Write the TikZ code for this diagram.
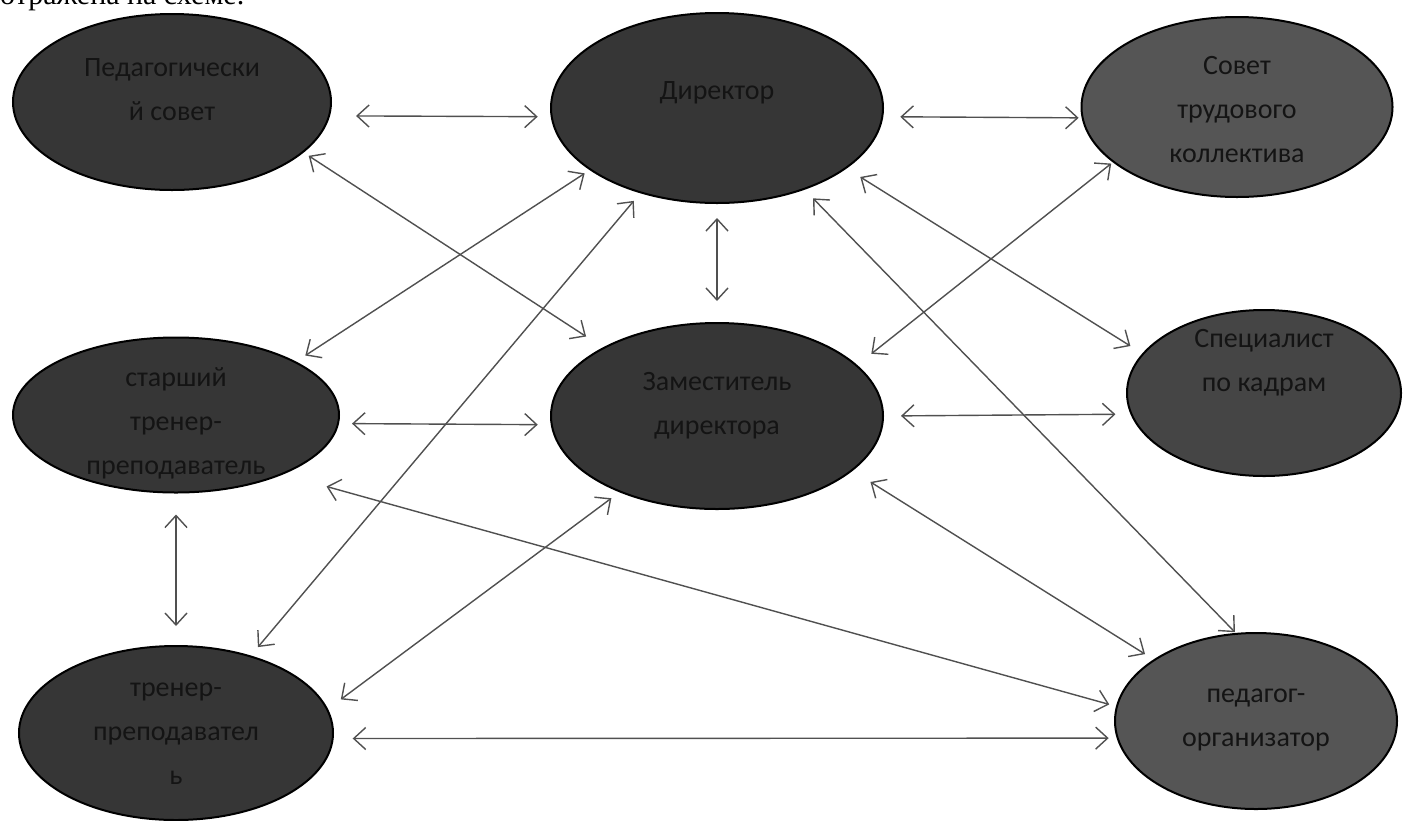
\documentclass[tikz,border=0pt]{standalone}
\usepackage{fontspec}
\setmainfont{Carlito}
\newfontfamily\serifpart{Liberation Serif}
\usetikzlibrary{arrows.meta,shapes.geometric}
\definecolor{fillA}{HTML}{363636}
\definecolor{fillB}{HTML}{555555}
\definecolor{fillC}{HTML}{454545}
\definecolor{txtc}{HTML}{141414}
\definecolor{arrc}{HTML}{505050}
\tikzset{
  bubble/.style={ellipse, draw=black, line width=2pt, inner sep=0pt, fill=fillA},
  btext/.style={text=txtc, align=center, font=\fontsize{28}{44}\selectfont, inner sep=0pt},
  link/.style={draw=arrc, line width=1.4pt,
    {Straight Barb[length=12pt,width=22pt]}-{Straight Barb[length=12pt,width=22pt]}},
}
\begin{document}
\begin{tikzpicture}[x=1pt,y=-1pt]
\useasboundingbox (0,0) rectangle (1407,820);
\fill[white] (0,0) rectangle (1407,820);
% cut line of text at the top
\node[anchor=base west, inner sep=0pt, font=\serifpart\fontsize{30}{36}\selectfont, text=black] (toptext) at (0,4) {отражена на схеме.};

% ellipses
\node[bubble, minimum width=318pt, minimum height=176pt] (ped) at (172,102) {};
\node[bubble, minimum width=332pt, minimum height=190pt] (dir) at (717,108) {};
\node[bubble, fill=fillB, minimum width=311pt, minimum height=180pt] (sov) at (1237,107) {};
\node[bubble, minimum width=326pt, minimum height=155pt] (star) at (176,415) {};
\node[bubble, minimum width=332pt, minimum height=186pt] (zam) at (717,416) {};
\node[bubble, fill=fillC, minimum width=274pt, minimum height=166pt] (spec) at (1264,393) {};
\node[bubble, minimum width=314pt, minimum height=174pt] (tren) at (176,733) {};
\node[bubble, fill=fillB, minimum width=282pt, minimum height=176pt] (org) at (1256,721) {};

% texts
\node[btext] (pedT) at ([yshift=12pt]ped.center) {Педагогически\\й совет};
\node[btext] (dirT) at ([yshift=15pt]dir.center) {Директор};
\node[btext] (sovT) at ([yshift=-3pt]sov.center) {Совет\\трудового\\коллектива};
\node[btext] (starT) at ([yshift=-8pt]star.center) {старший\\тренер-\\преподаватель};
\node[btext] (zamT) at ([yshift=10pt]zam.center) {Заместитель\\директора};
\node[btext] (specT) at ([yshift=30pt]spec.center) {Специалист\\по кадрам};
\node[btext] (trenT) at ([yshift=-1pt]tren.center) {тренер-\\преподавател\\ь};
\node[btext] (orgT) at ([yshift=1pt]org.center) {педагог-\\организатор};

% connectors
\draw[link, shorten <=26pt, shorten >=13pt] (ped.-5) -- (dir.183);
\draw[link, shorten <=17pt, shorten >=3pt] (dir.-3) -- (sov.184);
\draw[link, shorten <=6pt, shorten >=20pt] (ped.-21) -- (zam.149);
\draw[link, shorten <=6pt, shorten >=11pt] (dir.206) -- (star.24);
\draw[link, shorten <=10pt, shorten >=11pt] (dir.228) -- (tren.46);
\draw[link, shorten <=10pt, shorten >=16pt] (zam.218) -- (tren.9);
\draw[link, shorten <=14pt, shorten >=21pt] (dir.south) -- (zam.north);
\draw[link, shorten <=16pt, shorten >=14pt] (dir.-25) -- (spec.162);
\draw[link, shorten <=12pt, shorten >=1pt] (dir.-43) -- (org.103);
\draw[link, shorten <=2pt, shorten >=18pt] (sov.204) -- (zam.20);
\draw[link, shorten <=17pt, shorten >=15pt] (zam.0) -- (spec.189);
\draw[link, shorten <=21pt, shorten >=10pt] (zam.-22) -- (org.149);
\draw[link, shorten <=45pt, shorten >=7pt] (star.-29) -- (org.174);
\draw[link, shorten <=19pt, shorten >=8pt] (tren.-2) -- (org.187);
\draw[link, shorten <=21pt, shorten >=19pt] (star.south) -- (tren.north);
\draw[link, shorten <=13pt, shorten >=13pt] (star.-3) -- (zam.183);
\end{tikzpicture}
\end{document}
